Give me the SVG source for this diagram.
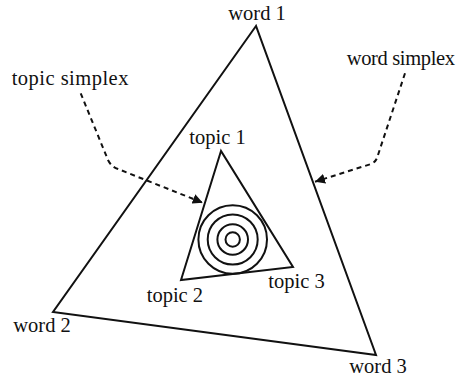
<svg xmlns="http://www.w3.org/2000/svg" width="465" height="383" viewBox="0 0 465 383">
<defs>
<style>
text{font-family:"Liberation Serif","Times New Roman",serif;font-size:20.5px;fill:#111}
.tri{fill:none;stroke:#111;stroke-width:2;stroke-linejoin:miter}
.ring{fill:none;stroke:#111;stroke-width:2}
.dash{fill:none;stroke:#111;stroke-width:2;stroke-dasharray:5 4}
</style>
<marker id="ah" viewBox="0 0 10 10" refX="10" refY="5" markerWidth="10" markerHeight="10" markerUnits="userSpaceOnUse" orient="auto">
<path d="M0,0 L10,5 L0,10 Z" fill="#111"/>
</marker>
</defs>
<g id="word-simplex-triangle">
<polygon class="tri" points="256,26 53,312 376,355"/>
</g>
<g id="topic-simplex-triangle">
<polygon class="tri" points="221,151 181,280 293,267"/>
</g>
<g id="rings">
<circle class="ring" cx="232.7" cy="239.5" r="34.3"/>
<circle class="ring" cx="232.7" cy="239.5" r="25"/>
<circle class="ring" cx="232.7" cy="239.5" r="15.3"/>
<circle class="ring" cx="232.7" cy="239.5" r="7.2"/>
</g>
<g id="labels">
<text x="228.3" y="20">word 1</text>
<text x="13.3" y="331.5">word 2</text>
<text x="349.3" y="373.3">word 3</text>
<text x="189.3" y="144">topic 1</text>
<text x="146.7" y="301.5">topic 2</text>
<text x="268.3" y="288.3">topic 3</text>
<text x="11.7" y="85" textLength="116.7">topic simplex</text>
<text x="346.7" y="65" textLength="108.3">word simplex</text>
</g>
<g id="connectors">
<path class="dash" d="M80.7,93.3 L108,160 Q111.5,167 118,169 L202.7,202.7" marker-end="url(#ah)"/>
<path class="dash" d="M405,73.3 L377,158 Q375.5,162 371,164 L315,181.7" marker-end="url(#ah)"/>
</g>
</svg>
